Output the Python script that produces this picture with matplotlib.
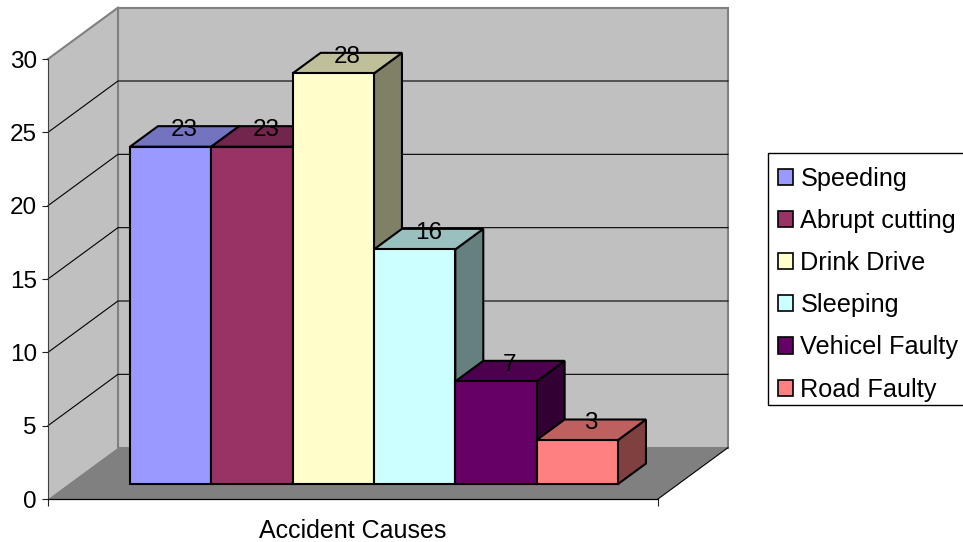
#!/usr/bin/env python3

from matplotlib import pyplot as plt
from matplotlib.colors import to_rgb
from matplotlib.patches import Patch, Rectangle

causes = ["Speeding", "Abrupt cutting", "Drink Drive", "Sleeping", "Vehicel Faulty", "Road Faulty"]
counts = [23, 23, 28, 16, 7, 3]
colors = ["#9999FF", "#993366", "#FFFFCC", "#CCFFFF", "#660066", "#FF8080"]
yticks = [0, 5, 10, 15, 20, 25, 30]

plt.rcParams['font.family'] = ['Liberation Sans', 'DejaVu Sans']
WALL = "#C0C0C0"
FLOOR = "#808080"
FS = 17.5

# box depth in data units, gap on either side of the bars is 0.75 of a bar
DEPTH_X = 0.86
DEPTH_Y = 3.5
GAP = 0.75
XMAX = len(counts) + 2 * GAP
BAR_FRONT = 0.30
BAR_BACK = 0.70
BAR_BASE = 1.02


def skew(x, v, depth):
    return x + depth * DEPTH_X, v + depth * DEPTH_Y


def poly(ax, corners, **kw):
    xs = [skew(*c)[0] for c in corners]
    ys = [skew(*c)[1] for c in corners]
    return ax.fill(xs, ys, clip_on=False, **kw)


def shade(color, k):
    return tuple(k * c for c in to_rgb(color))


fig = plt.figure(figsize=(9.63, 5.42), dpi=100)
ax = fig.add_axes([48 / 963, 43 / 542, 610 / 963, 440 / 542])
ax.set_xlim(0, XMAX)
ax.set_ylim(0, 30)
ax.patch.set_visible(False)

# walls and floor
poly(ax, [(0, 0, 0), (0, 30, 0), (0, 30, 1), (0, 0, 1)], fc=WALL, ec="none", zorder=0.5)
poly(ax, [(0, 0, 1), (0, 30, 1), (XMAX, 30, 1), (XMAX, 0, 1)], fc=WALL, ec=FLOOR, lw=1.5, zorder=0.6)
poly(ax, [(0, 0, 0), (XMAX, 0, 0), (XMAX, 0, 1), (0, 0, 1)], fc=FLOOR, ec="none", zorder=0.7)

# edge of the side wall and floor
x, y = zip(skew(0, 30, 0), skew(0, 30, 1))
ax.plot(x, y, color=FLOOR, lw=1.5, clip_on=False, zorder=0.8)
x, y = zip(skew(XMAX, 0, 0), skew(XMAX, 0, 1))
ax.plot(x, y, color="black", lw=0.8, clip_on=False, zorder=0.8)

# gridlines run along the side wall then the back wall
for t in yticks[1:-1]:
    x, y = zip(skew(0, t, 0), skew(0, t, 1), skew(XMAX, t, 1))
    ax.plot(x, y, color="black", lw=0.8, clip_on=False, zorder=0.9)

# bars, left to right so each one covers the side of the last
d = BAR_BACK - BAR_FRONT
for i, (val, col) in enumerate(zip(counts, colors)):
    left = GAP + i + BAR_FRONT * DEPTH_X
    right = left + 1
    top = BAR_BASE + val
    z = 2 + i
    ax.bar(left, val, width=1, bottom=BAR_BASE, align='edge', color=col, edgecolor="black",
           linewidth=1.5, clip_on=False, zorder=z + 0.2)
    poly(ax, [(right, BAR_BASE, 0), (right, top, 0), (right, top, d), (right, BAR_BASE, d)],
         fc=shade(col, 0.5), ec="black", lw=1.5, joinstyle='miter', zorder=z)
    poly(ax, [(left, top, 0), (right, top, 0), (right, top, d), (left, top, d)],
         fc=shade(col, 0.75), ec="black", lw=1.5, joinstyle='miter', zorder=z)

# value labels sit halfway back on the top face
for i, val in enumerate(counts):
    tx, ty = skew(GAP + i + 0.5, val, (BAR_FRONT + BAR_BACK) / 2)
    ax.text(tx, ty, str(val), ha='center', va='baseline', fontsize=FS, color="black", zorder=20)

ax.set_yticks(yticks)
ax.set_xticks([0, XMAX])
ax.set_xticklabels([])
ax.tick_params(axis='y', labelsize=FS, length=4, width=0.8, pad=4, color="#202020")
ax.tick_params(axis='x', length=5, width=0.8, color="#202020")
ax.set_xlabel("Accident Causes", fontsize=18, labelpad=6)
for side in ["top", "right"]:
    ax.spines[side].set_visible(False)
ax.spines["left"].set_linewidth(0.8)
ax.spines["left"].set_color("#404040")
ax.spines["bottom"].set_linewidth(0.9)
ax.spines["left"].set_zorder(1)
ax.spines["bottom"].set_zorder(1)

# legend box is drawn on its own, the entries sit a little low in it
fig.add_artist(Rectangle((768 / 963, 1 - 405 / 542), 200 / 963, 252 / 542, transform=fig.transFigure,
                         fc="white", ec="black", lw=1))
handles = [Patch(facecolor=c, edgecolor="black", linewidth=1.2) for c in colors]
fig.legend(handles, causes, loc='upper left', bbox_to_anchor=(766 / 963, 1 - 155 / 542),
           borderaxespad=0, frameon=False, fontsize=18.2, handlelength=0.6, handleheight=0.6,
           handletextpad=0.3, labelspacing=0.72, borderpad=0.46)

plt.savefig("out.png", dpi=100)
